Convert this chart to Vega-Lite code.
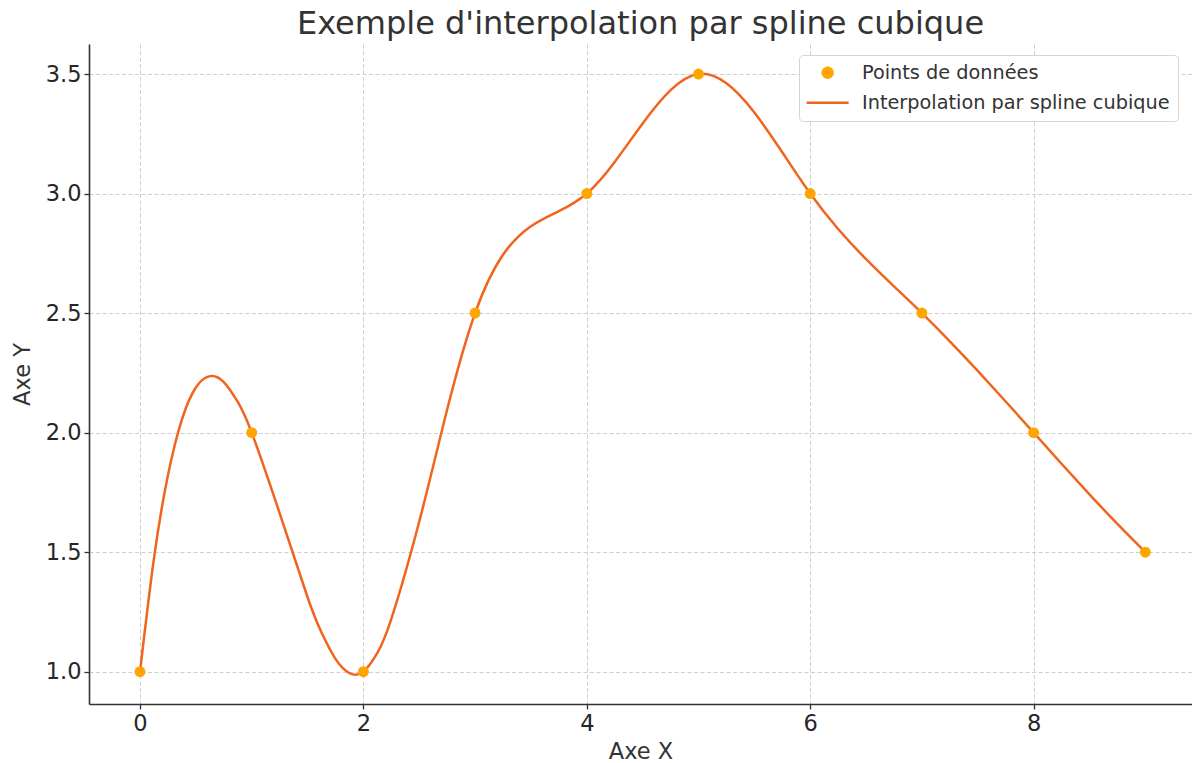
{
  "$schema": "https://vega.github.io/schema/vega-lite/v6.json",
  "width": 1103,
  "height": 660,
  "autosize": {"type": "none"},
  "padding": {"left": 89, "top": 44, "right": 0, "bottom": 59},
  "background": "white",
  "title": {
    "text": "Exemple d'interpolation par spline cubique",
    "fontSize": 32,
    "font": "DejaVu Sans",
    "fontWeight": "normal",
    "color": "#333333",
    "anchor": "middle",
    "baseline": "alphabetic",
    "offset": -22
  },
  "datasets": {
    "points": [
      {"x": 0, "y": 1, "serie": "Points de données"},
      {"x": 1, "y": 2, "serie": "Points de données"},
      {"x": 2, "y": 1, "serie": "Points de données"},
      {"x": 3, "y": 2.5, "serie": "Points de données"},
      {"x": 4, "y": 3, "serie": "Points de données"},
      {"x": 5, "y": 3.5, "serie": "Points de données"},
      {"x": 6, "y": 3, "serie": "Points de données"},
      {"x": 7, "y": 2.5, "serie": "Points de données"},
      {"x": 8, "y": 2, "serie": "Points de données"},
      {"x": 9, "y": 1.5, "serie": "Points de données"}
    ],
    "spline": [
      {"x": 0, "y": 1, "serie": "Interpolation par spline cubique"},
      {"x": 0.125, "y": 1.4742, "serie": "Interpolation par spline cubique"},
      {"x": 0.25, "y": 1.8212, "serie": "Interpolation par spline cubique"},
      {"x": 0.375, "y": 2.0548, "serie": "Interpolation par spline cubique"},
      {"x": 0.5, "y": 2.1886, "serie": "Interpolation par spline cubique"},
      {"x": 0.625, "y": 2.2363, "serie": "Interpolation par spline cubique"},
      {"x": 0.75, "y": 2.2116, "serie": "Interpolation par spline cubique"},
      {"x": 0.875, "y": 2.1283, "serie": "Interpolation par spline cubique"},
      {"x": 1, "y": 2, "serie": "Interpolation par spline cubique"},
      {"x": 1.25, "y": 1.6634, "serie": "Interpolation par spline cubique"},
      {"x": 1.5, "y": 1.3114, "serie": "Interpolation par spline cubique"},
      {"x": 1.625, "y": 1.164, "serie": "Interpolation par spline cubique"},
      {"x": 1.75, "y": 1.0538, "serie": "Interpolation par spline cubique"},
      {"x": 1.875, "y": 0.9945, "serie": "Interpolation par spline cubique"},
      {"x": 2, "y": 1, "serie": "Interpolation par spline cubique"},
      {"x": 2.125, "y": 1.0789, "serie": "Interpolation par spline cubique"},
      {"x": 2.25, "y": 1.2205, "serie": "Interpolation par spline cubique"},
      {"x": 2.5, "y": 1.6282, "serie": "Interpolation par spline cubique"},
      {"x": 2.75, "y": 2.0968, "serie": "Interpolation par spline cubique"},
      {"x": 3, "y": 2.5, "serie": "Interpolation par spline cubique"},
      {"x": 3.25, "y": 2.7438, "serie": "Interpolation par spline cubique"},
      {"x": 3.5, "y": 2.8634, "serie": "Interpolation par spline cubique"},
      {"x": 3.75, "y": 2.9263, "serie": "Interpolation par spline cubique"},
      {"x": 4, "y": 3, "serie": "Interpolation par spline cubique"},
      {"x": 4.25, "y": 3.1324, "serie": "Interpolation par spline cubique"},
      {"x": 4.5, "y": 3.2931, "serie": "Interpolation par spline cubique"},
      {"x": 4.75, "y": 3.4323, "serie": "Interpolation par spline cubique"},
      {"x": 5, "y": 3.5, "serie": "Interpolation par spline cubique"},
      {"x": 5.25, "y": 3.461, "serie": "Interpolation par spline cubique"},
      {"x": 5.5, "y": 3.339, "serie": "Interpolation par spline cubique"},
      {"x": 5.75, "y": 3.1726, "serie": "Interpolation par spline cubique"},
      {"x": 6, "y": 3, "serie": "Interpolation par spline cubique"},
      {"x": 6.25, "y": 2.8517, "serie": "Interpolation par spline cubique"},
      {"x": 6.5, "y": 2.7257, "serie": "Interpolation par spline cubique"},
      {"x": 6.75, "y": 2.6118, "serie": "Interpolation par spline cubique"},
      {"x": 7, "y": 2.5, "serie": "Interpolation par spline cubique"},
      {"x": 7.25, "y": 2.3821, "serie": "Interpolation par spline cubique"},
      {"x": 7.5, "y": 2.2581, "serie": "Interpolation par spline cubique"},
      {"x": 7.75, "y": 2.1301, "serie": "Interpolation par spline cubique"},
      {"x": 8, "y": 2, "serie": "Interpolation par spline cubique"},
      {"x": 8.25, "y": 1.8699, "serie": "Interpolation par spline cubique"},
      {"x": 8.5, "y": 1.7419, "serie": "Interpolation par spline cubique"},
      {"x": 8.75, "y": 1.6179, "serie": "Interpolation par spline cubique"},
      {"x": 9, "y": 1.5, "serie": "Interpolation par spline cubique"}
    ]
  },
  "layer": [
    {
      "data": {"name": "spline"},
      "mark": {"type": "line", "interpolate": "natural", "strokeWidth": 2.5, "clip": true},
      "encoding": {
        "x": {
          "field": "x",
          "type": "quantitative",
          "scale": {"domain": [-0.4566, 9.418], "nice": false, "zero": false},
          "axis": {"title": "Axe X", "values": [0, 2, 4, 6, 8], "format": "d", "titlePadding": 6}
        },
        "y": {
          "field": "y",
          "type": "quantitative",
          "scale": {"domain": [0.8649, 3.6255], "nice": false, "zero": false},
          "axis": {"title": "Axe Y", "values": [1, 1.5, 2, 2.5, 3, 3.5], "format": ".1f", "titlePadding": 11}
        },
        "color": {
          "field": "serie",
          "type": "nominal",
          "scale": {
            "domain": ["Points de données", "Interpolation par spline cubique"],
            "range": ["#FFA500", "#F1641E"]
          },
          "legend": {
            "title": null,
            "orient": "none",
            "legendX": 710,
            "legendY": 11,
            "fillColor": "white",
            "strokeColor": "#d5d5d5",
            "cornerRadius": 4,
            "padding": 8,
            "labelFontSize": 19.3,
            "labelFont": "DejaVu Sans",
            "labelColor": "#333333",
            "labelLimit": 500,
            "labelOffset": 24.7,
            "symbolOffset": 11,
            "rowPadding": 10,
            "symbolSize": 144,
            "symbolStrokeWidth": 2.5,
            "encode": {
              "symbols": {
                "update": {
                  "shape": {"signal": "datum.value === 'Points de données' ? 'circle' : 'M-3.5,0H3.5'"},
                  "size": {"value": 144},
                  "fill": {"signal": "datum.value === 'Points de données' ? '#FFA500' : 'transparent'"},
                  "stroke": {"signal": "datum.value === 'Points de données' ? '#FFA500' : '#F1641E'"},
                  "strokeWidth": {"signal": "datum.value === 'Points de données' ? 0.5 : 2.5"},
                  "opacity": {"value": 1}
                }
              }
            }
          }
        }
      }
    },
    {
      "data": {"name": "points"},
      "mark": {"type": "point", "filled": true, "size": 120, "opacity": 1},
      "encoding": {
        "x": {"field": "x", "type": "quantitative"},
        "y": {"field": "y", "type": "quantitative"},
        "color": {"field": "serie", "type": "nominal"}
      }
    }
  ],
  "config": {
    "font": "DejaVu Sans",
    "view": {"stroke": null},
    "axis": {
      "labelFont": "DejaVu Sans",
      "titleFont": "DejaVu Sans",
      "labelFontSize": 22.5,
      "titleFontSize": 22.5,
      "titleFontWeight": "normal",
      "labelColor": "#262626",
      "titleColor": "#333333",
      "domainColor": "#333333",
      "domainWidth": 1.6,
      "tickColor": "#333333",
      "tickSize": 5,
      "tickWidth": 1.3,
      "grid": true,
      "gridColor": "#cfcfcf",
      "gridDash": [4, 2.5],
      "gridWidth": 1,
      "labelPadding": 3,
      "labelOverlap": false
    }
  }
}
